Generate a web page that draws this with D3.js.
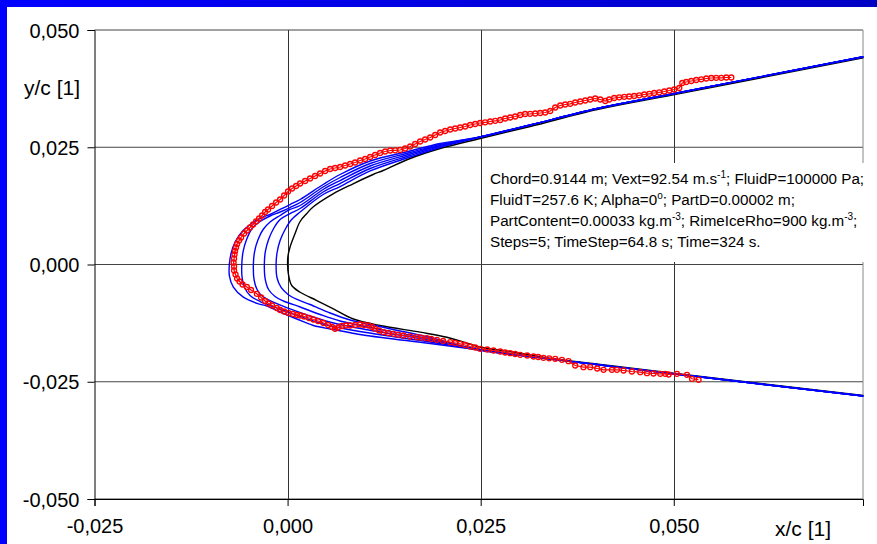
<html>
<head>
  <script src="https://d3js.org/d3.v7.min.js"></script>
  <style>
    body { margin: 0; background: #fff; }
    svg { display: block; font-family: "Liberation Sans", Arial, sans-serif; }
  </style>
</head>
<body>
  <svg id="chart"></svg>

  <script>
    // axis ticks
    const xTicks = [-0.025, 0, 0.025, 0.05];
    const yTicks = [-0.05, -0.025, 0, 0.025, 0.05];

    // clean airfoil (black)
    const clean = [
      [0.07454,0.04407],[0.04993,0.03618],[0.04009,0.03305],[0.03141,0.02942],[0.02493,0.02687],
      [0.01975,0.02473],[0.01587,0.02260],[0.01237,0.02004],[0.01107,0.01919],[0.00848,0.01721],
      [0.00589,0.01507],[0.00330,0.01226],[0.00249,0.01087],[0.00162,0.00917],[0.00097,0.00661],
      [0.00032,0.00373],[0.00004,0.00171],[0,0],
      [0.00010,-0.00198],[0.00054,-0.00448],[0.00162,-0.00591],[0.00378,-0.00768],[0.00593,-0.00945],
      [0.00852,-0.01162],[0.01198,-0.01301],[0.01716,-0.01443],[0.02062,-0.01550],[0.02493,-0.01759],
      [0.02925,-0.01870],[0.03361,-0.01994],[0.04048,-0.02132],[0.04993,-0.02320],[0.07454,-0.02793]
    ];

    // ice shapes (blue), tails shared where the steps merge
    const upperTail = [[0.07454,0.04429],[0.04993,0.03640],[0.04009,0.03326],[0.03141,0.02974],[0.02493,0.02719]];
    const lowerTail = [[0.02493,-0.01823],[0.03361,-0.02004],[0.04048,-0.02143],[0.04993,-0.02330],[0.07454,-0.02804]];

    const ice1 = [
      [0.01975,0.02580],[0.01587,0.02420],[0.01069,0.02207],[0.00680,0.01919],[0.00460,0.01706],
      [0.00162,0.01386],[0.00032,0.01279],[-0.00097,0.01173],[-0.00227,0.01066],[-0.00317,0.01013],
      [-0.00447,0.00896],[-0.00576,0.00725],[-0.00680,0.00480],[-0.00732,0.00235],[-0.00754,0],
      [-0.00754,-0.00235],[-0.00702,-0.00484],[-0.00573,-0.00697],[-0.00378,-0.00838],[-0.00269,-0.00885],
      [-0.00097,-0.01013],[0.00119,-0.01162],[0.00334,-0.01301],[0.00593,-0.01386],[0.00978,-0.01503],
      [0.01846,-0.01684]
    ];
    const ice2 = [
      [0.01975,0.02559],[0.01587,0.02388],[0.01069,0.02154],[0.00680,0.01855],[0.00460,0.01652],
      [0.00162,0.01322],[0.00032,0.01215],[-0.00097,0.01119],[-0.00227,0.01034],[-0.00356,0.00917],
      [-0.00460,0.00768],[-0.00531,0.00533],[-0.00576,0.00277],[-0.00593,0],
      [-0.00589,-0.00277],[-0.00557,-0.00490],[-0.00486,-0.00661],[-0.00356,-0.00789],[-0.00227,-0.00874],
      [-0.00097,-0.00949],[0.00162,-0.01109],[0.00508,-0.01290],[0.00978,-0.01439],[0.01846,-0.01652]
    ];
    const ice3 = [
      [0.01975,0.02537],[0.01587,0.02356],[0.01069,0.02100],[0.00680,0.01791],[0.00460,0.01599],
      [0.00162,0.01258],[0.00032,0.01173],[-0.00097,0.01045],[-0.00227,0.00906],[-0.00317,0.00746],
      [-0.00382,0.00533],[-0.00427,0.00277],[-0.00443,0],
      [-0.00434,-0.00320],[-0.00395,-0.00533],[-0.00330,-0.00672],[-0.00184,-0.00804],[0.00032,-0.00945],
      [0.00291,-0.01098],[0.00593,-0.01247],[0.00978,-0.01375],[0.01846,-0.01620]
    ];
    const ice4 = [
      [0.01975,0.02516],[0.01587,0.02324],[0.01069,0.02047],[0.00680,0.01727],[0.00460,0.01546],
      [0.00162,0.01194],[0.00032,0.01087],[-0.00097,0.00959],[-0.00181,0.00768],[-0.00246,0.00533],
      [-0.00288,0.00277],[-0.00301,0],
      [-0.00291,-0.00299],[-0.00246,-0.00533],[-0.00162,-0.00682],[-0.00054,-0.00778],[0.00162,-0.00906],
      [0.00421,-0.01066],[0.00680,-0.01205],[0.00978,-0.01311],[0.01846,-0.01589]
    ];
    const ice5 = [
      [0.01975,0.02495],[0.01587,0.02292],[0.01069,0.01994],[0.00680,0.01663],[0.00460,0.01493],
      [0.00162,0.01119],[0.00052,0.00959],[-0.00032,0.00746],[-0.00097,0.00512],[-0.00136,0.00256],
      [-0.00149,0],
      [-0.00136,-0.00288],[-0.00084,-0.00490],[0.00006,-0.00640],[0.00123,-0.00746],[0.00291,-0.00853],
      [0.00551,-0.01034],[0.00810,-0.01183],[0.00978,-0.01247],[0.01846,-0.01557]
    ];

    // experimental ice shape (red markers)
    const experiment = [
      [0.05745,0.03987],[0.05680,0.03987],[0.05615,0.03981],[0.05550,0.03981],[0.05486,0.03977],
      [0.05421,0.03966],[0.05356,0.03949],[0.05291,0.03934],[0.05227,0.03913],[0.05162,0.03891],
      [0.05110,0.03870],[0.05071,0.03763],[0.05006,0.03731],[0.04942,0.03710],[0.04877,0.03689],
      [0.04812,0.03672],[0.04747,0.03657],[0.04683,0.03640],[0.04618,0.03625],[0.04553,0.03608],
      [0.04488,0.03593],[0.04423,0.03582],[0.04359,0.03576],[0.04294,0.03565],[0.04229,0.03550],
      [0.04164,0.03518],[0.04113,0.03486],[0.04048,0.03518],[0.03983,0.03539],[0.03918,0.03518],
      [0.03854,0.03497],[0.03789,0.03475],[0.03724,0.03454],[0.03659,0.03426],[0.03594,0.03412],
      [0.03530,0.03390],[0.03465,0.03348],[0.03400,0.03273],[0.03335,0.03241],[0.03271,0.03230],
      [0.03206,0.03220],[0.03141,0.03213],[0.03076,0.03209],[0.03012,0.03188],[0.02947,0.03156],
      [0.02882,0.03134],[0.02817,0.03113],[0.02753,0.03081],[0.02688,0.03064],[0.02623,0.03049],
      [0.02558,0.03032],[0.02493,0.03017],[0.02429,0.02996],[0.02364,0.02974],[0.02299,0.02942],
      [0.02234,0.02921],[0.02170,0.02900],[0.02105,0.02878],[0.02040,0.02846],[0.01975,0.02815],
      [0.01911,0.02761],[0.01846,0.02708],[0.01781,0.02665],[0.01716,0.02623],[0.01652,0.02569],
      [0.01587,0.02516],[0.01522,0.02473],[0.01457,0.02441],[0.01392,0.02435],[0.01328,0.02431],
      [0.01263,0.02409],[0.01198,0.02377],[0.01133,0.02335],[0.01069,0.02292],[0.01004,0.02249],
      [0.00939,0.02217],[0.00874,0.02175],[0.00810,0.02143],[0.00745,0.02111],[0.00680,0.02079],
      [0.00615,0.02058],[0.00551,0.02036],[0.00486,0.01994],[0.00421,0.01940],[0.00356,0.01887],
      [0.00291,0.01834],[0.00227,0.01780],[0.00162,0.01727],[0.00110,0.01674],[0.00058,0.01620],
      [0.00006,0.01557],[-0.00045,0.01471],[-0.00097,0.01386],[-0.00149,0.01322],[-0.00201,0.01247],
      [-0.00253,0.01173],[-0.00291,0.01119],[-0.00330,0.01045],[-0.00369,0.00981],[-0.00408,0.00917],
      [-0.00447,0.00853],[-0.00486,0.00789],[-0.00525,0.00725],[-0.00563,0.00661],[-0.00602,0.00576],
      [-0.00628,0.00512],[-0.00654,0.00437],[-0.00667,0.00362],[-0.00680,0.00288],[-0.00687,0.00213],
      [-0.00693,0.00128],[-0.00699,0.00043],[-0.00693,-0.00043],
      [-0.00693,-0.00128],[-0.00674,-0.00213],[-0.00654,-0.00299],[-0.00622,-0.00362],[-0.00583,-0.00426],
      [-0.00528,-0.00480],[-0.00473,-0.00544],[-0.00399,-0.00625],[-0.00343,-0.00704],[-0.00291,-0.00778],
      [-0.00249,-0.00832],[-0.00201,-0.00874],[-0.00140,-0.00927],[-0.00097,-0.00970],[-0.00045,-0.01002],
      [0.00010,-0.01034],[0.00071,-0.01055],[0.00123,-0.01077],[0.00162,-0.01087],[0.00214,-0.01109],
      [0.00278,-0.01141],[0.00334,-0.01173],[0.00395,-0.01205],[0.00464,-0.01247],[0.00525,-0.01290],
      [0.00576,-0.01333],[0.00615,-0.01371],[0.00654,-0.01343],[0.00702,-0.01311],[0.00758,-0.01301],
      [0.00810,-0.01301],[0.00874,-0.01290],[0.00939,-0.01279],[0.00991,-0.01290],[0.01047,-0.01301],
      [0.01095,-0.01333],[0.01133,-0.01371],[0.01185,-0.01407],[0.01241,-0.01443],[0.01302,-0.01461],
      [0.01370,-0.01478],[0.01431,-0.01497],[0.01500,-0.01514],[0.01587,-0.01535],[0.01674,-0.01550],
      [0.01729,-0.01561],[0.01803,-0.01571],[0.01859,-0.01589],[0.01933,-0.01606],[0.02014,-0.01631],
      [0.02105,-0.01657],[0.02170,-0.01674],[0.02234,-0.01691],[0.02299,-0.01716],[0.02364,-0.01748],
      [0.02429,-0.01770],[0.02493,-0.01797],[0.02584,-0.01812],[0.02666,-0.01834],[0.02753,-0.01855],
      [0.02817,-0.01876],[0.02882,-0.01891],[0.02947,-0.01908],[0.03012,-0.01925],[0.03102,-0.01940],
      [0.03184,-0.01962],[0.03245,-0.01972],[0.03313,-0.01989],[0.03387,-0.02000],[0.03465,-0.02011],
      [0.03552,-0.02032],[0.03637,-0.02062],[0.03724,-0.02154],[0.03831,-0.02190],[0.03918,-0.02190],
      [0.04009,-0.02217],[0.04091,-0.02245],[0.04199,-0.02245],[0.04264,-0.02245],[0.04350,-0.02260],
      [0.04458,-0.02281],[0.04566,-0.02296],[0.04653,-0.02318],[0.04738,-0.02324],[0.04825,-0.02330],
      [0.04890,-0.02330],[0.04933,-0.02345],[0.05041,-0.02330],[0.05171,-0.02352],[0.05236,-0.02437],
      [0.05321,-0.02458]
    ];

    const infoLines = [
      [["Chord=0.9144 m; Vext=92.54 m.s"], ["-1", true], ["; FluidP=100000 Pa;"]],
      [["FluidT=257.6 K; Alpha=0"], ["o", true], ["; PartD=0.00002 m;"]],
      [["PartContent=0.00033 kg.m"], ["-3", true], ["; RimeIceRho=900 kg.m"], ["-3", true], [";"]],
      [["Steps=5; TimeStep=64.8 s; Time=324 s."]]
    ];

    const width = 877, height = 544;
    const svg = d3.select('#chart').attr('width', width).attr('height', height);

    // blue frame
    const grad = svg.append('defs').append('linearGradient').attr('id', 'frame');
    grad.append('stop').attr('offset', '0%').attr('stop-color', '#0000ff');
    grad.append('stop').attr('offset', '100%').attr('stop-color', '#0000c4');
    svg.append('rect').attr('width', width).attr('height', height).attr('fill', 'url(#frame)');
    svg.append('rect').attr('x', 7).attr('y', 7).attr('width', width - 7).attr('height', height - 7).attr('fill', '#fff');

    const x = d3.scaleLinear().domain([-0.025, 0.0745]).range([94.5, 863]);
    const y = d3.scaleLinear().domain([-0.05, 0.05]).range([499, 30]);

    const loc = d3.formatLocale({decimal: ',', thousands: '.', grouping: [3], currency: ['', ''], minus: '-'});
    const fmt = loc.format('.3f');

    // grid
    svg.append('g').selectAll('line').data(xTicks.filter(d => d > -0.025)).enter().append('line')
      .attr('x1', d => Math.round(x(d)) + 0.5).attr('x2', d => Math.round(x(d)) + 0.5)
      .attr('y1', y(0.05)).attr('y2', y(-0.05)).attr('stroke', '#333');
    svg.append('g').selectAll('line').data(yTicks).enter().append('line')
      .attr('x1', x(-0.025)).attr('x2', x(0.0745))
      .attr('y1', d => y(d)).attr('y2', d => y(d)).attr('stroke', '#444');
    svg.append('line').attr('x1', x(0.0745)).attr('x2', x(0.0745)).attr('y1', y(0.05)).attr('y2', y(-0.05))
      .attr('stroke', '#888');

    // axes
    const yAxis = svg.append('g').attr('transform', `translate(${x(-0.025)},0)`)
      .call(d3.axisLeft(y).tickValues(yTicks).tickFormat(fmt).tickSize(7).tickPadding(8));
    const xAxis = svg.append('g').attr('transform', `translate(0,${y(-0.05)})`)
      .call(d3.axisBottom(x).tickValues(xTicks).tickFormat(fmt).tickSize(7).tickPadding(13));
    [yAxis, xAxis].forEach(a => {
      a.select('.domain').attr('stroke', '#000');
      a.selectAll('.tick line').attr('stroke', '#000');
      a.selectAll('text').attr('font-size', 20).attr('fill', '#000')
        .attr('font-family', '"Liberation Sans", Arial, sans-serif');
    });
    yAxis.selectAll('text').attr('dy', '0.36em');

    svg.append('text').attr('x', 80).attr('y', 95).attr('text-anchor', 'end')
      .attr('font-size', 21).text('y/c [1]');
    svg.append('text').attr('x', 775).attr('y', 536)
      .attr('font-size', 21).text('x/c [1]');

    const line = d3.line().x(d => x(d[0])).y(d => y(d[1])).curve(d3.curveCatmullRom.alpha(0.5));
    const plot = svg.append('g');

    plot.append('path').datum(clean).attr('d', line).attr('fill', 'none')
      .attr('stroke', '#000').attr('stroke-width', 1.4);

    const iceSteps = [ice1, ice2, ice3, ice4, ice5].map(s => upperTail.concat(s, lowerTail));
    plot.selectAll('.ice').data(iceSteps).enter().append('path').attr('class', 'ice')
      .attr('d', line).attr('fill', 'none').attr('stroke', '#0000ff').attr('stroke-width', 1.4);

    const redLine = d3.line().x(d => x(d[0])).y(d => y(d[1]));
    plot.append('path').datum(experiment).attr('d', redLine).attr('fill', 'none')
      .attr('stroke', '#ff0000').attr('stroke-width', 1.2);
    plot.selectAll('.pt').data(experiment).enter().append('circle').attr('class', 'pt')
      .attr('cx', d => x(d[0])).attr('cy', d => y(d[1])).attr('r', 2.5)
      .attr('fill', 'none').attr('stroke', '#ff0000').attr('stroke-width', 1.3);

    // info box
    svg.append('rect').attr('x', 484).attr('y', 163).attr('width', 393).attr('height', 99).attr('fill', '#fff');
    const info = svg.append('text').attr('font-size', 15.2).attr('fill', '#000');
    infoLines.forEach((parts, i) => {
      parts.forEach((p, j) => {
        const t = info.append('tspan').text(p[0]);
        if (j === 0) t.attr('x', 490).attr('y', 183.5 + i * 21);
        if (p[1]) t.attr('font-size', 10).attr('dy', -6);
        else if (j > 0 && parts[j - 1][1]) t.attr('dy', 6);
      });
    });
  </script>
</body>
</html>
